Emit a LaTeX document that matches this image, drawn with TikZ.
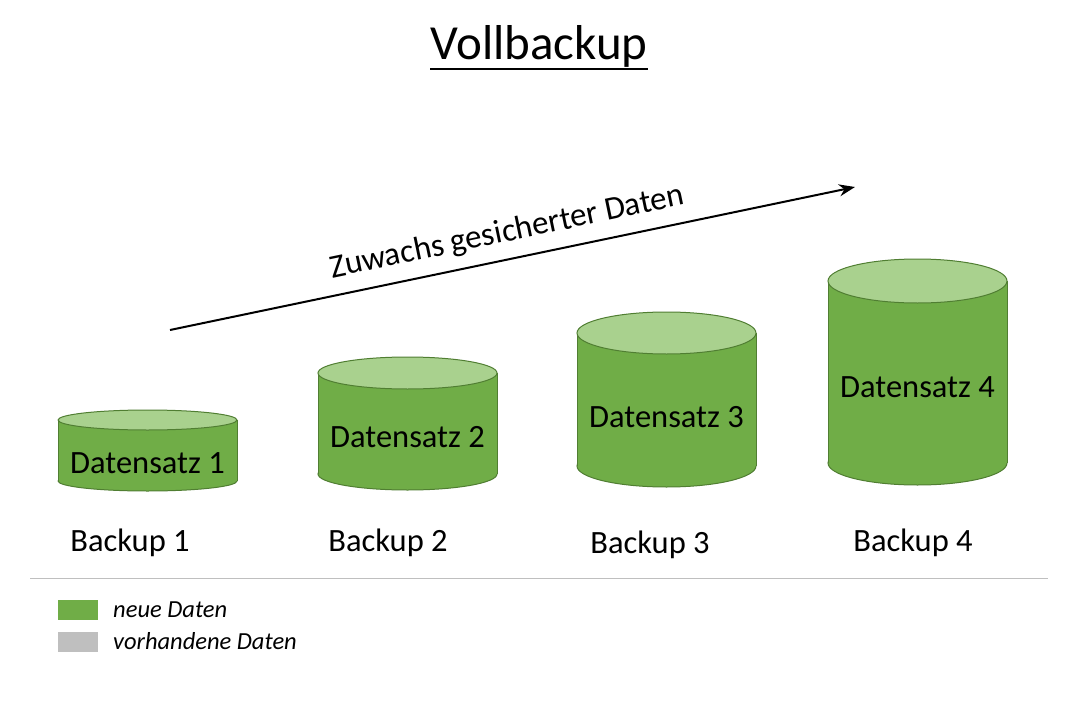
\documentclass[tikz,border=0pt]{standalone}
\usepackage{fontspec}
\setmainfont{Carlito}
\usetikzlibrary{positioning, arrows.meta}
\definecolor{bodygreen}{HTML}{70AD47}
\definecolor{topgreen}{HTML}{A9D18E}
\definecolor{edgegreen}{HTML}{507E32}
\definecolor{oldgray}{HTML}{BFBFBF}
\tikzset{
  dslabel/.style  = {inner sep=0pt, font=\fontsize{32.5}{38}\selectfont},
  bulabel/.style  = {inner sep=0pt, font=\fontsize{32.5}{38}\selectfont},
  legbox/.style   = {minimum width=40pt, minimum height=20pt, inner sep=0pt},
  legtext/.style  = {anchor=west, inner sep=0pt, font=\fontsize{24.5}{29}\selectfont\itshape},
  arrow/.style    = {-{Stealth[length=16pt, width=12pt]}, line width=2pt}
}

\begin{document}
\begin{tikzpicture}[x=1pt, y=-1pt,
  cyledge/.style={draw=edgegreen, line width=1pt}
]
  \useasboundingbox (0,0) rectangle (1080,720);

  \node[font=\fontsize{49}{58}\selectfont, inner sep=0pt] (title) at (539,46) {Vollbackup};
  \draw[line width=2.5pt] ([yshift=-2pt]title.south west) -- ([yshift=-2pt]title.south east);

  % cylinders
  \foreach \n/\xl/\yt/\ry/\yb/\ty/\bx/\by in {1/58/420/10/481/463/130/543,
      2/318/373/16/474/437/388/543, 3/577/333/21/466/417/650/545,
      4/828/281/22/463/387/913/543}{
    \draw[cyledge, fill=bodygreen] (\xl+89.5,\yb) ellipse (89.5 and \ry);
    \fill[bodygreen] (\xl,\yt) rectangle (\xl+179,\yb);
    \draw[cyledge] (\xl,\yt) -- (\xl,\yb);
    \draw[cyledge] (\xl+179,\yt) -- (\xl+179,\yb);
    \draw[cyledge, fill=topgreen] (\xl+89.5,\yt) ellipse (89.5 and \ry);
    \node[dslabel] (ds\n) at (\xl+89.5,\ty) {Datensatz \n};
    \node[bulabel] (bu\n) at (\bx,\by) {Backup \n};
  }

  % growth arrow
  \coordinate (zs) at (170,330);
  \coordinate (ze) at (855,187);
  \draw[arrow] (zs) -- (ze) node[midway, sloped, above=11pt, inner sep=0pt, font=\fontsize{33}{38}\selectfont] (zw) {Zuwachs gesicherter Daten};

  % separator
  \coordinate (sl) at (30,578);
  \coordinate (sr) at (1048,578);
  \draw[oldgray, line width=1pt] (sl) -- (sr);

  % legend
  \node[legbox, fill=bodygreen] (lg1) at (78,610) {};
  \node[legbox, fill=oldgray, below=12pt of lg1] (lg2) {};
  \node[legtext] (lt1) at (113,610) {neue Daten};
  \node[legtext] (lt2) at (113,641) {vorhandene Daten};
\end{tikzpicture}
\end{document}
